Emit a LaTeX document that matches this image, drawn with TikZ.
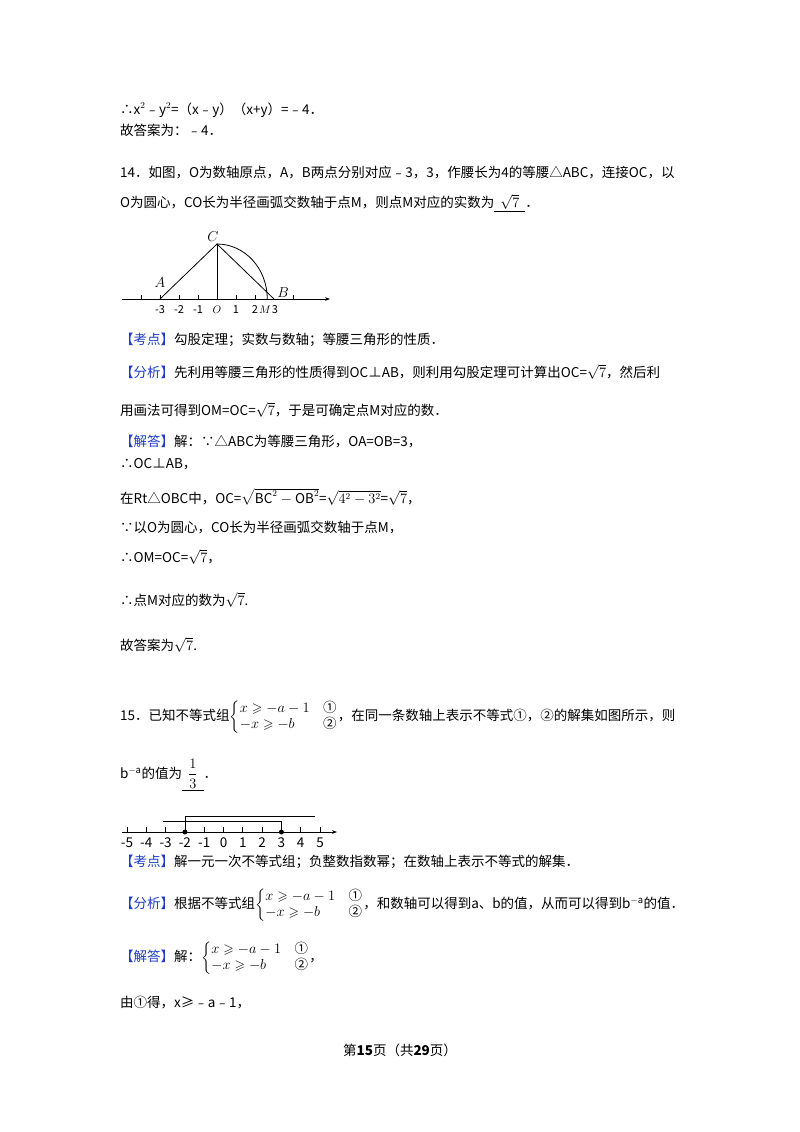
\documentclass[tikz,border=0pt]{standalone}
\usepackage{amsmath,amssymb}
\usepackage{fontspec}
\setmainfont{Noto Sans CJK SC}
\usetikzlibrary{arrows.meta}
\definecolor{kd}{RGB}{30,60,200}
\newcommand{\kk}[1]{{\color{kd}【#1】}}
\newcommand{\sysA}{$\left\{\begin{array}{@{}l@{\quad}l@{}}x\geqslant-a-1&\text{①}\\-x\geqslant-b&\text{②}\end{array}\right.$}
\begin{document}
\begin{tikzpicture}[x=1pt,y=-1pt,font=\fontsize{13.5}{16}\selectfont,
  tx/.style={anchor=west,inner sep=0pt},ax/.style={line width=0.8pt}]
\useasboundingbox[fill=white] (0,0) rectangle (800,1132);
\node[tx] (l1) at (120,110) {∴x$^2$﹣y$^2$=（x﹣y）（x+y）=﹣4．};
\node[tx] (l2) at (120,130) {故答案为：﹣4．};
\node[tx] (l3) at (120,172) {14．如图，O为数轴原点，A，B两点分别对应﹣3，3，作腰长为4的等腰△ABC，连接OC，以};
\node[tx] (l4) at (120,203) {O为圆心，CO长为半径画弧交数轴于点M，则点M对应的实数为\underline{\ \ $\sqrt{7}$\ \ }．};
% figure 1
\draw[ax,-{Stealth[length=5pt]}] (122,299) -- (330,299);
\foreach \i in {-4,-3,-2,-1,1,2,4} {\draw[ax] (217+19*\i,299) -- (217+19*\i,295);}
\foreach \i/\l in {-3/-3,-2/-2,-1/-1,1/1} {\node[font=\fontsize{11}{12}\selectfont] at (217+19*\i,310) {\l};}
\node[font=\fontsize{11}{12}\selectfont] (O) at (217,310) {$O$};
\node[font=\fontsize{11}{12}\selectfont] at (255,310) {2};
\node[font=\fontsize{11}{12}\selectfont] at (265,310) {$M$};
\node[font=\fontsize{11}{12}\selectfont] at (275,310) {3};
\coordinate (A) at (160,299); \coordinate (B) at (274,299); \coordinate (C) at (217,244);
\coordinate (M) at (267.3,299); \coordinate (Ob) at (217,299);
\draw[ax] (A) -- (C) -- (B); \draw[ax] (C) -- (Ob);
\draw[ax] (C) arc[start angle=-90,end angle=0,x radius=50.3,y radius=55];
\node at (160,283) {$A$}; \node at (213,237) {$C$}; \node at (283,293) {$B$};
\node[tx] at (120,340) {\kk{考点}勾股定理；实数与数轴；等腰三角形的性质．};
\node[tx] at (120,372) {\kk{分析}先利用等腰三角形的性质得到OC⊥AB，则利用勾股定理可计算出OC=$\sqrt{7}$，然后利};
\node[tx] at (120,410) {用画法可得到OM=OC=$\sqrt{7}$，于是可确定点M对应的数．};
\node[tx] at (120,442) {\kk{解答}解：∵△ABC为等腰三角形，OA=OB=3，};
\node[tx] at (120,464) {∴OC⊥AB，};
\node[tx] at (120,497) {在Rt△OBC中，OC=$\sqrt{\mathrm{BC}^2-\mathrm{OB}^2}$=$\sqrt{4^2-3^2}$=$\sqrt{7}$，};
\node[tx] at (120,527) {∵以O为圆心，CO长为半径画弧交数轴于点M，};
\node[tx] at (120,557) {∴OM=OC=$\sqrt{7}$，};
\node[tx] at (120,600) {∴点M对应的数为$\sqrt{7}$.};
\node[tx] at (120,645) {故答案为$\sqrt{7}$.};
\node[tx] at (120,717) {15．已知不等式组\sysA，在同一条数轴上表示不等式①，②的解集如图所示，则};
\node[tx] at (120,775) {b$^{-\mathrm{a}}$的值为\underline{\ \ $\dfrac{1}{3}$\ \ }．};
% number line
\draw[ax,-{Stealth[length=5pt]}] (122,832) -- (337,832);
\foreach \i in {-5,...,5} {\draw[ax] (223.5+19.3*\i,832) -- (223.5+19.3*\i,827);
  \node at (223.5+19.3*\i,843) {\i};}
\coordinate (p) at (184.9,832); \coordinate (q) at (281.4,832);
\draw[ax] (p) -- ++(0,-16) -- (315,816);
\draw[ax] (q) -- ++(0,-11) -- (163,821);
\fill (p) circle (2.5); \fill (q) circle (2.5);
\node[tx] at (120,862) {\kk{考点}解一元一次不等式组；负整数指数幂；在数轴上表示不等式的解集．};
\node[tx] at (120,905) {\kk{分析}根据不等式组\sysA，和数轴可以得到a、b的值，从而可以得到b$^{-\mathrm{a}}$的值．};
\node[tx] at (120,958) {\kk{解答}解：\sysA，};
\node[tx] at (120,1002) {由①得，x≥﹣a﹣1，};
\node at (400,1050) {第\textbf{15}页（共\textbf{29}页）};
\end{tikzpicture}
\end{document}
